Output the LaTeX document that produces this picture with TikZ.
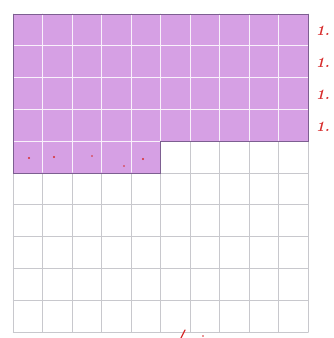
\documentclass[tikz,border=0pt]{standalone}
\usepackage{xcolor}
\usepackage{tikz}
\usetikzlibrary{positioning,calc}
\definecolor{lilac}{RGB}{214,160,228}
\definecolor{lilacedge}{RGB}{125,95,145}
\definecolor{gridgray}{RGB}{200,200,205}
\definecolor{penred}{RGB}{215,45,45}
\begin{document}
\begin{tikzpicture}[x=1pt, y=-1pt, line cap=round,
  gridline/.style={gridgray, line width=0.7pt},
  whiteline/.style={white!85!lilac, line width=1.1pt},
  tally/.style={text=penred, font=\Large\bfseries\itshape, inner sep=0pt},
  dot/.style={circle, fill=penred, inner sep=0pt, minimum size=2.4pt}]
\useasboundingbox (0,0) rectangle (334,338);
\def\cw{29.5}\def\ch{31.8}\def\xo{13.3}\def\yo{14}
% grid on white
\foreach \i in {0,...,10} {
  \draw[gridline] (\xo+\i*\cw, \yo) -- (\xo+\i*\cw, \yo+10*\ch);
  \draw[gridline] (\xo, \yo+\i*\ch) -- (\xo+10*\cw, \yo+\i*\ch);
}
% shaded part: 45 of 100
\fill[lilac] (\xo,\yo) -- (\xo+10*\cw,\yo) -- (\xo+10*\cw,\yo+4*\ch) -- (\xo+5*\cw,\yo+4*\ch)
  -- (\xo+5*\cw,\yo+5*\ch) -- (\xo,\yo+5*\ch) -- cycle;
\foreach \i in {1,...,9}
  \draw[whiteline] (\xo+\i*\cw, \yo+0.8) -- (\xo+\i*\cw, {\yo+(\i<5 ? 5 : 4)*\ch-0.8});
\foreach \j in {1,...,4}
  \draw[whiteline] (\xo+0.8, \yo+\j*\ch) -- ({\xo+(\j<4 ? 10 : 5)*\cw-0.8}, \yo+\j*\ch);
\draw[lilacedge, line width=0.9pt] (\xo,\yo) -- (\xo+10*\cw,\yo) -- (\xo+10*\cw,\yo+4*\ch) -- (\xo+5*\cw,\yo+4*\ch)
  -- (\xo+5*\cw,\yo+5*\ch) -- (\xo,\yo+5*\ch) -- cycle;
% pen marks
\foreach \j in {1,...,4}
  \node[tally] (t\j) at (323, \yo+\j*\ch-0.5*\ch+1) {1.};
\node[dot] (d1) at (29,158) {};
\node[dot] (d2) at (54,157) {};
\node[dot, minimum size=1.6pt] (d3) at (92,156) {};
\node[dot, minimum size=1.8pt] (d4) at (124,166) {};
\node[dot] (d5) at (143,159) {};
\coordinate (s1) at (181,338);
\coordinate (s2) at (185,330);
\draw[penred, line width=1.3pt] (s1) -- (s2);
\node[dot, minimum size=1.8pt] (d6) at (203,336) {};
\end{tikzpicture}
\end{document}
